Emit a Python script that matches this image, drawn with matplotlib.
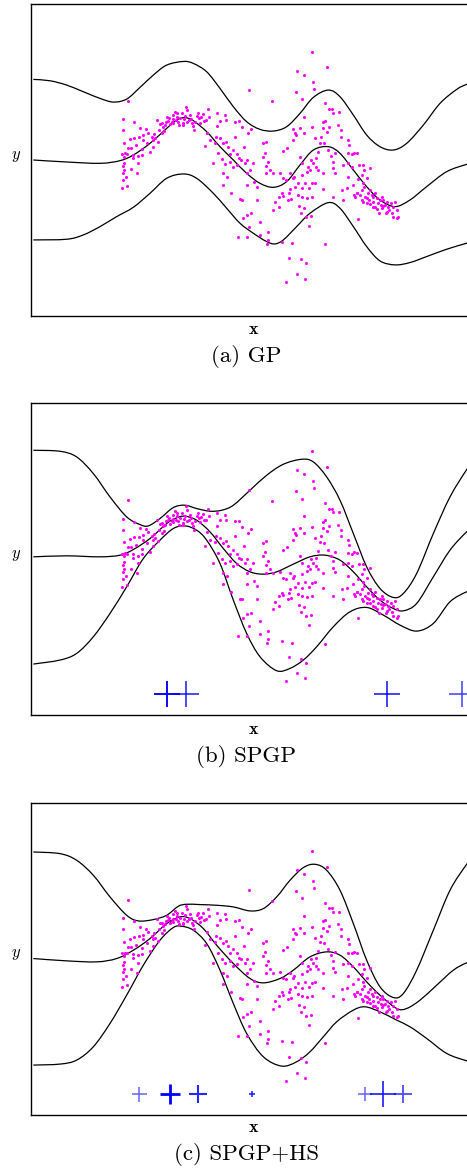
import numpy as np
import matplotlib
matplotlib.use("Agg")
import matplotlib.pyplot as plt
from matplotlib.path import Path
from matplotlib.patches import PathPatch

# ---------------- data ----------------
pts = np.array([
    (3.83, 1.78), (3.68, 1.23), (3.70, 0.90), (4.02, 1.14), (3.72, 0.52), (3.92, 0.37), (3.83, 0.37),
    (3.75, 0.20), (3.66, 0.18), (3.72, 0.10), (3.80, 0.18), (4.00, 0.16), (4.08, 0.44), (4.20, 0.96),
    (4.17, 0.69), (4.28, 0.74), (4.02, 0.67), (3.90, 0.62), (4.27, 0.33), (4.13, 0.12), (3.72, -0.08),
    (3.68, -0.18), (3.73, -0.30), (3.70, -0.38), (3.92, -0.28), (4.10, -0.40), (4.15, -0.10), (3.77, -0.50),
    (3.70, -0.60), (3.65, -0.83), (3.80, -0.78), (4.00, 0.05), (4.26, 0.16), (4.37, 0.92), (4.45, 0.82),
    (4.30, 0.60), (4.55, 0.70), (4.60, 0.60), (4.65, 0.65), (4.72, 1.20), (4.78, 0.90), (4.75, 0.55),
    (4.60, 0.40), (4.50, 0.24), (4.40, 0.50), (4.62, 0.78),
    (4.85, 1.10), (4.90, 1.00), (4.95, 1.05), (5.00, 1.30), (5.05, 1.18), (5.10, 1.08), (5.15, 1.15),
    (5.20, 1.35), (5.25, 1.45), (5.28, 1.20), (5.30, 1.30), (5.35, 1.15), (5.40, 1.25), (5.45, 1.40),
    (5.48, 1.10), (5.53, 1.22), (5.55, 1.32), (5.58, 1.60), (5.62, 1.50), (5.66, 1.20), (5.70, 1.35),
    (5.75, 1.10), (5.80, 1.02), (5.85, 1.15), (5.90, 1.32), (5.95, 1.40), (5.98, 1.25), (6.04, 1.28),
    (6.10, 1.38), (6.12, 1.18), (6.18, 1.20), (6.24, 1.52), (6.28, 1.30), (5.82, 0.90), (6.00, 1.12),
    (4.92, 0.87), (4.86, 0.80), (4.80, 1.08), (5.20, 1.12), (5.38, 1.05), (5.60, 1.15), (5.72, 1.24),
    (5.08, 1.25), (5.32, 1.40), (5.50, 1.05), (5.18, 1.22), (4.97, 1.15),
    (6.50, 1.40), (6.60, 1.18), (6.75, 1.35), (6.78, 1.20), (6.22, 0.82), (6.50, 1.02), (6.48, 0.70),
    (6.30, 0.60), (6.45, 0.52), (6.60, 0.65), (6.68, 0.50), (6.78, 0.55), (6.85, 0.40), (6.90, 0.18),
    (7.00, 0.30), (7.06, 0.70), (7.12, 0.18), (7.16, 0.05), (7.18, 1.17), (7.06, 1.15), (7.25, 0.98),
    (7.32, 0.40), (7.45, 0.80), (7.52, 0.92), (7.40, 0.00), (7.35, -0.10), (7.22, 0.00), (7.12, -0.15),
    (7.00, -0.20), (6.90, -0.05), (6.76, -0.12), (6.65, 0.02), (6.40, -0.10), (6.55, 0.20), (6.15, 0.42),
    (6.68, -0.40), (6.80, -0.50), (6.70, -0.75), (6.92, -0.98), (7.20, -1.18), (7.25, -1.20), (7.30, -1.75),
    (7.42, -1.65), (7.52, -1.60), (7.48, -2.00), (7.70, -1.20), (7.70, -0.80), (7.62, -0.65), (7.40, -0.40),
    (7.50, -0.30), (7.40, -0.75), (7.15, -2.31), (7.42, -2.30), (7.80, -1.85), (7.80, -2.25), (8.05, -2.15),
    (8.05, -2.40), (8.00, -2.51), (8.20, -1.50), (8.26, -1.27), (8.36, -1.10), (8.38, -1.40), (8.48, -1.08),
    (8.58, -0.60), (8.48, -0.55), (8.45, -1.00), (8.40, -0.38), (8.20, -0.40), (8.10, -0.30), (7.98, -0.40),
    (7.98, -0.18), (8.05, -0.05), (7.95, 0.22), (7.90, 0.50), (7.98, 0.55), (7.88, 0.10), (7.60, -0.10),
    (7.46, 2.09), (8.15, 1.76), (8.57, -3.66), (8.67, -2.93), (8.90, -3.42), (9.03, -2.98), (9.17, -3.10),
    (9.16, -3.57), (8.45, -2.45), (8.75, -2.50),
    (8.50, 0.28), (8.62, 0.37), (8.80, 0.60), (8.85, 0.80), (8.80, 0.92), (8.88, 0.75), (9.00, 0.95),
    (9.12, 0.80), (9.12, 1.30), (9.35, 0.98), (9.45, 0.65), (9.60, 0.52), (9.62, 0.70), (9.68, 0.95),
    (9.76, 1.18), (9.80, 0.85), (9.88, 1.00), (9.70, 1.14), (8.92, 2.68), (9.12, 2.56), (9.05, 1.83),
    (8.88, 2.05), (9.40, 2.35), (9.43, 2.14), (9.35, 3.25), (9.80, 2.78), (9.75, 1.70), (9.87, 1.53),
    (9.95, 1.53), (10.00, 1.42), (10.18, 1.43), (10.15, 1.05), (10.22, 0.90), (10.23, 0.70), (10.45, 0.60),
    (10.48, 0.45), (10.43, 0.20), (10.56, 0.18), (10.62, 0.22), (10.70, 0.20), (10.05, 0.22), (9.93, 0.12),
    (9.85, 0.30), (9.72, 0.50), (9.55, 0.25), (9.48, 0.05), (9.40, -0.10), (9.33, 0.00), (9.30, -0.30),
    (9.20, -0.35), (9.25, -0.20), (9.05, -0.10), (9.00, 0.10), (9.05, -0.45), (8.83, -0.50), (8.70, -0.40),
    (8.78, -0.55), (8.95, -0.70), (9.15, -0.68), (9.35, -0.70), (9.45, -0.68), (9.28, -0.83), (9.05, -0.85),
    (8.85, -0.82), (8.70, -0.88), (8.66, -1.00), (8.65, -1.20), (8.73, -1.16), (8.93, -1.05), (9.05, -1.10),
    (9.20, -1.13), (9.35, -1.10), (9.48, -0.20), (9.55, -0.30), (9.70, -0.40), (10.00, -0.25), (10.05, -0.38),
    (10.30, -0.15), (10.45, -0.10), (10.55, -0.20), (10.00, -0.05), (8.98, -1.38), (9.03, -1.58), (9.13, -1.43),
    (9.18, -1.70), (9.33, -1.68), (9.28, -1.98), (9.76, -2.53), (10.75, -1.77), (9.68, -0.86), (10.00, -1.10),
    (10.30, -1.20), (10.26, -0.90), (10.45, -0.50), (10.58, -0.75), (10.62, -1.05), (10.70, -0.98), (10.40, -0.85),
    (10.78, -0.15), (10.88, -0.15), (10.92, -0.30), (10.85, -0.45), (10.75, -0.58), (10.90, -0.68), (11.00, -0.55),
    (11.10, -0.25), (10.92, -0.80), (10.85, -0.90), (10.72, -0.98), (10.80, -1.05), (10.95, -1.10), (11.00, -1.15),
    (11.05, -1.00), (11.10, -0.90), (11.15, -1.05), (11.20, -1.10), (11.25, -0.98), (11.08, -1.20), (11.18, -1.25),
    (11.30, -1.15), (11.40, -1.20), (11.45, -1.10), (11.50, -1.20), (11.35, -1.30), (11.25, -1.42), (11.55, -1.35),
    (11.60, -1.25), (11.65, -1.40), (11.72, -1.30), (11.80, -1.40), (11.85, -1.25), (11.68, -1.50), (11.58, -1.60),
    (11.75, -1.58), (11.90, -1.50), (11.95, -1.70), (11.90, -1.75), (11.78, -1.70), (11.60, -1.55), (11.45, -1.45),
    (11.50, -1.38), (11.20, -1.40), (11.00, -1.30), (10.90, -1.25), (10.85, -1.20), (10.65, -1.10), (11.10, -1.32),
    (11.30, -1.48), (11.38, -1.60), (11.42, -1.35),
])
data_x, data_y = pts[:, 0], pts[:, 1]

# GP
a_mean_x = [1.0, 2.0, 3.0, 3.6, 4.0, 4.5, 5.0, 5.3, 5.55, 5.8, 6.2, 6.6, 7.0, 7.4, 7.8, 8.2, 8.6, 9.0,
            9.4, 9.85, 10.2, 10.6, 11.0, 11.4, 11.85, 12.3, 12.8, 13.4, 14.0, 14.3]
a_mean_y = [0.0, -0.06, -0.10, -0.02, 0.15, 0.50, 0.95, 1.20, 1.27, 1.18, 0.85, 0.40, 0.0, -0.40, -0.70,
            -0.82, -0.65, -0.15, 0.30, 0.40, 0.20, -0.30, -0.80, -1.20, -1.40, -1.20, -0.80, -0.35, -0.13, -0.05]
a_up_x = [1.0, 1.5, 2.0, 2.5, 3.0, 3.4, 3.8, 4.2, 4.6, 5.0, 5.5, 5.8, 6.2, 6.6, 7.0, 7.4, 7.8, 8.2, 8.6,
          9.0, 9.4, 9.85, 10.2, 10.6, 11.0, 11.4, 11.8, 12.2, 12.7, 13.2, 13.7, 14.0, 14.3]
a_up_y = [2.42, 2.38, 2.25, 2.05, 1.85, 1.74, 1.83, 2.18, 2.55, 2.85, 2.96, 2.90, 2.65, 2.15, 1.60, 1.15,
          0.92, 0.87, 1.00, 1.40, 1.88, 2.10, 1.90, 1.35, 0.75, 0.40, 0.30, 0.50, 1.05, 1.70, 2.12, 2.27, 2.35]
a_lo_x = [1.0, 2.0, 2.5, 3.0, 3.5, 4.0, 4.5, 5.0, 5.5, 5.9, 6.4, 6.8, 7.2, 7.6, 8.0, 8.25, 8.5, 8.9,
          9.3, 9.85, 10.2, 10.6, 11.0, 11.4, 11.85, 12.3, 12.8, 13.4, 14.0, 14.3]
a_lo_y = [-2.40, -2.38, -2.25, -2.00, -1.70, -1.42, -1.00, -0.55, -0.42, -0.55, -1.00, -1.45, -1.90, -2.20,
          -2.45, -2.52, -2.40, -2.00, -1.60, -1.28, -1.45, -2.00, -2.60, -3.03, -3.15, -3.08, -2.90, -2.68, -2.50, -2.42]

# SPGP
b_mean_x = [1.0, 2.0, 3.0, 3.6, 4.0, 4.5, 5.0, 5.3, 5.55, 5.9, 6.3, 6.7, 7.1, 7.5, 7.9, 8.3, 8.8, 9.3,
            9.75, 10.2, 10.6, 11.0, 11.4, 11.8, 12.1, 12.5, 13.0, 13.5, 14.0, 14.3]
b_mean_y = [0.08, 0.11, 0.08, 0.13, 0.30, 0.63, 1.08, 1.25, 1.30, 1.18, 0.83, 0.33, -0.12, -0.37, -0.44,
            -0.37, -0.14, 0.08, 0.13, -0.02, -0.37, -0.82, -1.22, -1.47, -1.54, -1.32, -0.52, 0.28, 0.83, 1.05]
b_up_x = [1.0, 1.8, 2.3, 2.8, 3.3, 3.8, 4.2, 4.45, 4.8, 5.2, 5.55, 5.9, 6.3, 6.65, 7.0, 7.5, 8.0, 8.5,
          9.05, 9.4, 9.8, 10.2, 10.6, 11.0, 11.4, 11.8, 12.1, 12.5, 13.0, 13.5, 14.0, 14.3]
b_up_y = [3.28, 3.25, 3.08, 2.58, 1.88, 1.28, 1.05, 1.01, 1.23, 1.56, 1.63, 1.53, 1.45, 1.48, 1.63, 2.08,
          2.53, 2.86, 3.01, 2.93, 2.48, 1.78, 0.78, -0.22, -0.87, -1.14, -1.02, -0.42, 0.78, 1.88, 2.70, 3.10]
b_lo_x = [1.0, 1.8, 2.3, 2.8, 3.3, 3.8, 4.3, 4.8, 5.2, 5.55, 5.9, 6.2, 6.6, 7.0, 7.4, 7.8, 8.3, 8.7,
          9.1, 9.5, 10.0, 10.5, 11.0, 11.5, 12.0, 12.5, 13.0, 13.5, 14.0, 14.3]
b_lo_y = [-3.14, -3.02, -2.82, -2.32, -1.62, -0.82, 0.03, 0.58, 0.93, 1.01, 0.88, 0.58, -0.12, -1.22, -2.22,
          -2.92, -3.34, -3.27, -3.02, -2.62, -2.02, -1.57, -1.44, -1.67, -1.97, -2.15, -1.92, -1.27, -0.97, -0.90]
b_pseudo = [5.00, 5.00, 5.58, 11.62, 13.87]

# SPGP+HS
c_mean_x = [1.0, 2.0, 2.9, 3.5, 4.0, 4.5, 5.0, 5.4, 5.7, 6.1, 6.5, 7.0, 7.5, 7.9, 8.4, 8.8, 9.3, 9.8,
            10.2, 10.6, 11.0, 11.4, 11.9, 12.2, 12.6, 13.1, 13.6, 14.0, 14.3]
c_mean_y = [0.02, -0.05, -0.08, 0.02, 0.27, 0.62, 1.07, 1.27, 1.22, 0.92, 0.42, -0.13, -0.58, -0.71, -0.58,
            -0.33, 0.07, 0.22, 0.12, -0.23, -0.68, -1.08, -1.48, -1.48, -1.23, -0.78, -0.33, -0.11, -0.05]
c_up_x = [1.0, 1.8, 2.3, 2.8, 3.3, 3.8, 4.15, 4.6, 5.0, 5.35, 5.6, 6.0, 6.5, 7.0, 7.5, 7.9, 8.3, 8.7,
          9.1, 9.45, 9.8, 10.2, 10.6, 11.0, 11.4, 11.8, 12.1, 12.5, 13.0, 13.5, 14.0, 14.3]
c_up_y = [3.22, 3.17, 2.97, 2.52, 1.87, 1.32, 1.15, 1.19, 1.32, 1.59, 1.65, 1.64, 1.62, 1.57, 1.45, 1.52,
          1.87, 2.37, 2.75, 2.85, 2.67, 2.07, 1.07, -0.03, -0.83, -1.15, -1.03, -0.33, 0.87, 2.07, 2.85, 3.20]
c_lo_x = [1.0, 1.8, 2.3, 2.8, 3.3, 3.8, 4.3, 4.8, 5.2, 5.45, 5.8, 6.2, 6.6, 7.0, 7.4, 7.9, 8.45, 8.9,
          9.3, 9.7, 10.1, 10.6, 10.95, 11.4, 11.9, 12.3, 12.8, 13.4, 14.0, 14.3]
c_lo_y = [-3.18, -3.15, -3.03, -2.63, -1.93, -1.08, -0.18, 0.57, 0.95, 0.99, 0.87, 0.47, -0.33, -1.33, -2.23,
          -2.93, -3.21, -3.08, -2.78, -2.33, -1.88, -1.53, -1.43, -1.58, -1.83, -2.03, -2.38, -2.83, -3.05, -3.10]
c_pseudo = [4.17, 5.10, 5.94, 7.55, 10.95, 11.50, 12.10]

# styles of the pseudo-input crosses (size in pt, alpha, line width)
b_ms = [18.5, 18.5, 18.5, 18.5, 18.5]
b_alpha = [0.9, 0.9, 0.9, 0.95, 0.75]
b_mew = [1.2, 1.2, 1.1, 1.1, 1.1]
c_ms = [10.8, 14.4, 13.0, 4.8, 9.6, 18.7, 13.0]
c_alpha = [0.6, 1.0, 0.85, 0.85, 0.6, 0.9, 0.7]
c_mew = [1.1, 2.0, 1.5, 1.2, 1.1, 1.2, 1.3]

panels = [
    ("(a) GP", (a_mean_x, a_mean_y), (a_up_x, a_up_y), (a_lo_x, a_lo_y), [], [], [], []),
    ("(b) SPGP", (b_mean_x, b_mean_y), (b_up_x, b_up_y), (b_lo_x, b_lo_y), b_pseudo, b_ms, b_alpha, b_mew),
    ("(c) SPGP+HS", (c_mean_x, c_mean_y), (c_up_x, c_up_y), (c_lo_x, c_lo_y), c_pseudo, c_ms, c_alpha, c_mew),
]


def smooth_curve(ax, xs, ys):
    # Catmull-Rom style bezier through the read points, drawn by matplotlib's Path
    p = np.column_stack([xs, ys]).astype(float)
    verts = [p[0]]
    codes = [Path.MOVETO]
    n = len(p)
    for i in range(n - 1):
        p0 = p[max(i - 1, 0)]
        p1, p2 = p[i], p[i + 1]
        p3 = p[min(i + 2, n - 1)]
        verts += [p1 + (p2 - p0) / 6, p2 - (p3 - p1) / 6, p2]
        codes += [Path.CURVE4] * 3
    ax.add_patch(PathPatch(Path(verts, codes), fill=False, edgecolor='k', lw=0.9))


W, H = 467, 1168
fig = plt.figure(figsize=(W / 100, H / 100), dpi=100)

tops = [3.5, 403, 802.7]          # top edge of each box (px)
box_h = 312
xlab_y = [329, 729, 1128]
cap_y = [356, 757, 1155]
ylab_y = [154, 553, 952]

for k, (cap, mean, up, lo, px, ms, al, mew) in enumerate(panels):
    ax = fig.add_axes([31 / W, 1 - (tops[k] + box_h) / H, 444 / W, box_h / H])
    smooth_curve(ax, *up)
    smooth_curve(ax, *mean)
    smooth_curve(ax, *lo)
    ax.scatter(data_x, data_y, s=5, color='#ff00ff', linewidths=0, zorder=3)
    for xi, m, a, w in zip(px, ms, al, mew):
        ax.plot([xi], [-4.04], ls='', marker='+', ms=m, mew=w, color='#0000ff', alpha=a, zorder=4)
    ax.set_xlim(0.93, 14.25)
    ax.set_ylim(-4.67, 4.70)
    ax.set_xticks([])
    ax.set_yticks([])
    for s in ax.spines.values():
        s.set_linewidth(1.0)

    fig.text(253 / W, 1 - xlab_y[k] / H, 'x', family='cmb10', fontsize=13, ha='center', va='center')
    fig.text(16 / W, 1 - ylab_y[k] / H, 'y', family='cmmi10', fontsize=12, ha='center', va='center')
    fig.text(246 / W, 1 - cap_y[k] / H, cap, family='cmr10', fontsize=16.5, ha='center', va='center')

fig.savefig('out.png', dpi=100)
